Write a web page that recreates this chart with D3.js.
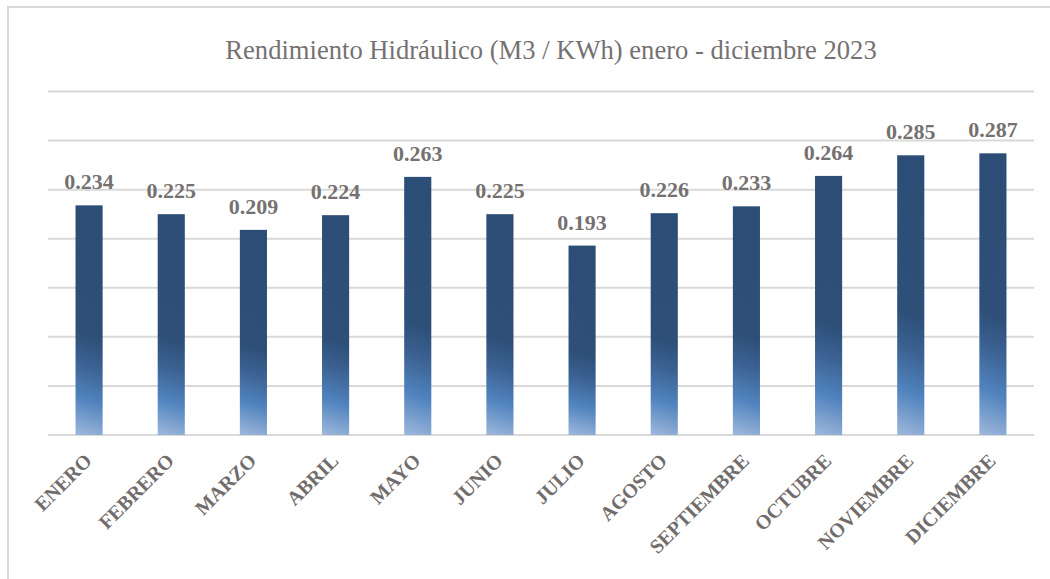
<!DOCTYPE html>
<html>
<head>
<meta charset="utf-8">
<script src="https://cdn.jsdelivr.net/npm/d3@7"></script>
<style>
  html, body { margin: 0; padding: 0; background: #fff; }
  svg { display: block; }
</style>
</head>
<body>
<script>
const months = ["ENERO","FEBRERO","MARZO","ABRIL","MAYO","JUNIO","JULIO","AGOSTO","SEPTIEMBRE","OCTUBRE","NOVIEMBRE","DICIEMBRE"];
const values = [0.234,0.225,0.209,0.224,0.263,0.225,0.193,0.226,0.233,0.264,0.285,0.287];
const yTicks = [0,0.05,0.10,0.15,0.20,0.25,0.30,0.35];
const title = "Rendimiento Hidráulico (M3 / KWh) enero - diciembre 2023";

const W = 1050, H = 579;
const svg = d3.select("body").append("svg").attr("width", W).attr("height", H);

const defs = svg.append("defs");
const grad = defs.append("linearGradient").attr("id","barGrad")
  .attr("x1","0.04").attr("y1","0").attr("x2","0").attr("y2","1");
[[0,"#2c4d76"],[0.55,"#2d4f78"],[0.68,"#3c6293"],[0.83,"#5083be"],[1,"#9fb8db"]]
  .forEach(([o,c]) => grad.append("stop").attr("offset",o).attr("stop-color",c));

// chart border
svg.append("rect").attr("x",8).attr("y",7).attr("width",W).attr("height",H)
  .attr("fill","none").attr("stroke","#d9d9d9").attr("stroke-width",2);

const x = d3.scaleBand().domain(months).range([48,1034]).paddingInner(0.67).paddingOuter(0.335);
const y = d3.scaleLinear().domain([0,0.35]).range([435,91.5]);

// gridlines
svg.append("g").selectAll("line").data(yTicks).join("line")
  .attr("x1",48).attr("x2",1034)
  .attr("y1",d=>y(d)).attr("y2",d=>y(d))
  .attr("stroke","#d9d9d9").attr("stroke-width",2);

// title
svg.append("text").attr("x",551).attr("y",59).attr("text-anchor","middle")
  .attr("font-family","'Liberation Serif', 'Times New Roman', serif")
  .attr("font-size",26.6).attr("fill","#767171").text(title);

// bars
svg.append("g").selectAll("rect").data(values).join("rect")
  .attr("x",(d,i)=>x(months[i])).attr("width",x.bandwidth())
  .attr("y",d=>y(d)).attr("height",d=>y(0)-y(d))
  .attr("fill","url(#barGrad)");

// value labels
svg.append("g").selectAll("text").data(values).join("text")
  .attr("x",(d,i)=>x(months[i])+x.bandwidth()/2)
  .attr("y",d=>y(d)-16)
  .attr("text-anchor","middle")
  .attr("font-family","'Liberation Serif', 'Times New Roman', serif")
  .attr("font-weight","bold").attr("font-size",22).attr("fill","#767171")
  .text(d=>d.toFixed(3));

// x axis labels
const xa = d3.axisBottom(x).tickSize(0).tickPadding(0);
const gx = svg.append("g").attr("transform","translate(0,435)").call(xa);
gx.select(".domain").remove();
gx.selectAll(".tick text")
  .attr("font-family","'Liberation Serif', 'Times New Roman', serif")
  .attr("font-weight","bold").attr("font-size",20).attr("fill","#716d6d")
  .attr("text-anchor","end").attr("dy",0).attr("y",0)
  .attr("transform","translate(4,27) rotate(-45)");
</script>
</body>
</html>
